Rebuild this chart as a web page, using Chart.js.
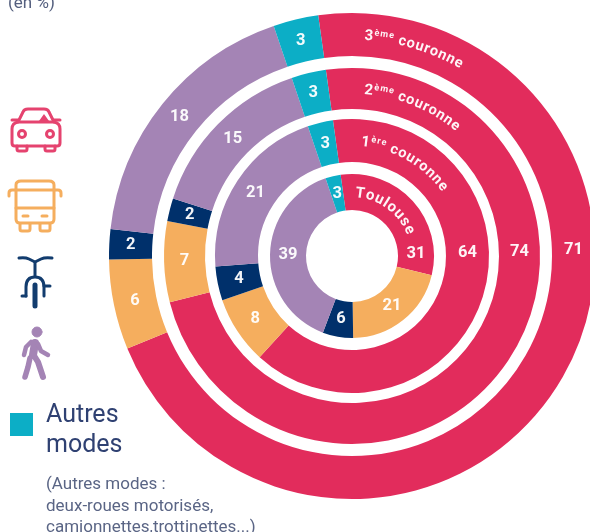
<!DOCTYPE html>
<html>
<head>
<meta charset="utf-8">
<style>
html,body{margin:0;padding:0;width:590px;height:532px;overflow:hidden;background:#fff;position:relative;font-family:Roboto,sans-serif;color:#2f4172}
#c{position:absolute;left:0;top:0}
.t{position:absolute;white-space:nowrap}
svg{position:absolute;overflow:visible}
</style>
<script src="https://cdn.jsdelivr.net/npm/chart.js@4/dist/chart.umd.min.js"></script>
</head>
<body>
<canvas id="c" width="600" height="532"></canvas>
<div class="t" style="left:8px;top:-8px;font-size:17px;color:#55607f">(en %)</div>

<svg style="left:0;top:0" width="80" height="440" fill="none">
  <g stroke="#E5436F" stroke-width="3" stroke-linejoin="round" stroke-linecap="round">
    <path d="M12 120h6M54 120h6"/>
    <path d="M12 129q0-6 6-7l5-10q1-3 5-3h16q4 0 5 3l5 10q6 1 6 7v14q0 3-3 3H15q-3 0-3-3z"/>
    <path d="M18 122h36"/>
    <circle cx="22" cy="134" r="3.5"/><circle cx="50" cy="134" r="3.5"/>
    <path d="M17 146v3q0 2 2 2h6q2 0 2-2v-3M45 146v3q0 2 2 2h6q2 0 2-2v-3"/>
  </g>
  <path d="M39 121l5-7 5 7z" fill="#E5436F"/>
  <g stroke="#F5AE5E" stroke-width="3" stroke-linejoin="round" stroke-linecap="round">
    <path d="M16 185q0-4 5-4h28q5 0 5 4v34q0 4-4 4H20q-4 0-4-4z"/>
    <path d="M16 190H12q-3 0-3 3v3M54 190h4q3 0 3 3v3M16 190h38M16 208h38"/>
    <path d="M23 216h5M42 216h5"/>
    <path d="M20 224v5q0 2 2 2h6q2 0 2-2v-5M40 224v5q0 2 2 2h6q2 0 2-2v-5"/>
  </g>
  <g stroke="#123C6E" stroke-width="3" stroke-linejoin="round" stroke-linecap="round">
    <path d="M19 258q6-1 10 1l6 3 6-3q4-2 11-1"/>
    <path d="M35 262v14"/>
    <path d="M35 285v21" stroke-width="5"/>
    <path d="M26 296v-9q0-10 9-10t9 10v9"/>
    <path d="M22 296h4M44 286h6"/>
  </g>
  <g fill="#A484B5" stroke="#A484B5" stroke-linecap="round" stroke-linejoin="round">
    <circle cx="37" cy="332" r="5"/>
    <path d="M31 342l-5 5-2 8" stroke-width="4.5" fill="none"/>
    <path d="M35 343l-2 12" stroke-width="8" fill="none"/>
    <path d="M33 354l5 8 5 15" stroke-width="6" fill="none"/>
    <path d="M30 358l-2 9-3 10" stroke-width="5.5" fill="none"/>
    <path d="M38 344l3 7 7 4" stroke-width="4.5" fill="none"/>
  </g>
  <rect x="10" y="413" width="23" height="23" fill="#0CAEC6"/>
</svg>

<div class="t" style="left:46px;top:399px;font-size:25px;line-height:30px">Autres<br>modes</div>
<div class="t" style="left:46px;top:473px;font-size:17px;line-height:21.5px;color:#5a6585">(Autres modes :<br>deux-roues motorisés,<br>camionnettes,trottinettes...)</div>

<script>
const ringNames = ['3ème couronne', '2ème couronne', '1ère couronne', 'Toulouse'];
const modes = ['Voiture', 'Transports en commun', 'Vélo', 'Marche', 'Autres modes'];
const modeColors = ['#E22C5C', '#F5AE5E', '#00306B', '#A484B5', '#0CAEC6'];
const couronne3 = [71, 6, 2, 18, 3];
const couronne2 = [74, 7, 2, 15, 3];
const couronne1 = [64, 8, 4, 21, 3];
const toulouse = [31, 21, 6, 39, 3];
const ringWeights = [43, 41, 43, 36];
const gapWeights = [12, 10, 12];
const titleAngles = [16.6, 22, 29.5, 36];
const voitureLabelAngle = 88.5;

function ring(name, data, weight) {
  return { label: name, data: data, weight: weight, backgroundColor: modeColors, borderWidth: 0, hoverOffset: 0 };
}
function gap(weight) {
  return { label: 'gap', data: [1], weight: weight, backgroundColor: 'rgba(0,0,0,0)', borderWidth: 0, hoverOffset: 0 };
}

const ringPlugin = {
  id: 'ringLabels',
  afterDatasetsDraw(chart) {
    const ctx = chart.ctx;
    chart.data.datasets.forEach((ds, di) => {
      if (ds.label === 'gap') return;
      const arcs = chart.getDatasetMeta(di).data;
      const titleIndex = ringNames.indexOf(ds.label);
      ctx.save();
      ctx.fillStyle = 'rgba(255,255,255,0.95)';
      ctx.textAlign = 'center';
      ctx.textBaseline = 'middle';
      ctx.font = '700 16.5px Roboto, sans-serif';
      arcs.forEach((arc, i) => {
        const r = (arc.innerRadius + arc.outerRadius) / 2;
        const a = i === 0
          ? (voitureLabelAngle - 90) * Math.PI / 180
          : (arc.startAngle + arc.endAngle) / 2;
        ctx.fillText(String(ds.data[i]), arc.x + r * Math.cos(a), arc.y + r * Math.sin(a));
      });
      drawTitle(ctx, arcs[0], ds.label, titleAngles[titleIndex]);
      ctx.restore();
    });
  }
};

function drawTitle(ctx, arc, label, deg) {
  const m = label.match(/^(\d)(ème|ère)( .*)$/);
  const parts = m
    ? [[m[1], 15, 0], [m[2], 9, 5], [m[3], 14.5, 0]]
    : [[label, 15, 0]];
  const glyphs = [];
  let total = 0;
  parts.forEach(p => {
    ctx.font = '700 ' + p[1] + 'px Roboto, sans-serif';
    for (const ch of p[0]) {
      const w = ctx.measureText(ch).width + 0.8;
      glyphs.push({ ch, size: p[1], rise: p[2], w });
      total += w;
    }
  });
  const r = (arc.innerRadius + arc.outerRadius) / 2 - 5;
  let ang = deg * Math.PI / 180 - total / 2 / r;
  ctx.textAlign = 'center';
  ctx.textBaseline = 'alphabetic';
  glyphs.forEach(g => {
    const mid = ang + g.w / 2 / r;
    ctx.save();
    ctx.translate(arc.x + r * Math.sin(mid), arc.y - r * Math.cos(mid));
    ctx.rotate(mid);
    ctx.font = '700 ' + g.size + 'px Roboto, sans-serif';
    ctx.fillText(g.ch, 0, -g.rise);
    ctx.restore();
    ang += g.w / r;
  });
}

new Chart(document.getElementById('c'), {
  type: 'doughnut',
  data: {
    labels: modes,
    datasets: [
      ring(ringNames[0], couronne3, ringWeights[0]), gap(gapWeights[0]),
      ring(ringNames[1], couronne2, ringWeights[1]), gap(gapWeights[1]),
      ring(ringNames[2], couronne1, ringWeights[2]), gap(gapWeights[2]),
      ring(ringNames[3], toulouse, ringWeights[3])
    ]
  },
  options: {
    responsive: false,
    animation: false,
    rotation: -8,
    cutout: 46,
    layout: { padding: { left: 109, right: 5, top: 13, bottom: 33 } },
    plugins: { legend: { display: false }, tooltip: { enabled: false } }
  },
  plugins: [ringPlugin]
});
</script>
</body>
</html>
